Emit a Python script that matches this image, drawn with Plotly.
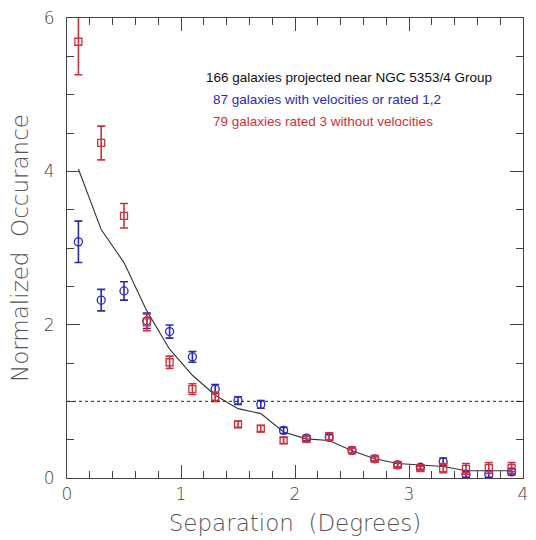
import plotly.graph_objects as go

# Angular separation bins (degrees)
sep = [0.1, 0.3, 0.5, 0.7, 0.9, 1.1, 1.3, 1.5, 1.7, 1.9,
       2.1, 2.3, 2.5, 2.7, 2.9, 3.1, 3.3, 3.5, 3.7, 3.9]

# Galaxies with velocities or rated 1,2
blue_val = [3.08, 2.32, 2.44, 2.05, 1.91, 1.58, 1.16, 1.01, 0.96, 0.62,
            0.52, 0.53, 0.36, 0.25, 0.17, 0.14, 0.21, 0.05, 0.05, 0.08]
blue_err = [0.27, 0.14, 0.12, 0.10, 0.085, 0.07, 0.06, 0.05, 0.05, 0.04,
            0.035, 0.035, 0.03, 0.03, 0.025, 0.025, 0.05, 0.04, 0.04, 0.04]

# Galaxies rated 3 without velocities
red_val = [5.69, 4.37, 3.42, 2.03, 1.51, 1.16, 1.06, 0.70, 0.645, 0.49,
           0.51, 0.54, 0.36, 0.25, 0.17, 0.13, 0.13, 0.12, 0.13, 0.13]
red_err = [0.43, 0.22, 0.16, 0.11, 0.08, 0.07, 0.06, 0.04, 0.04, 0.04,
           0.035, 0.05, 0.03, 0.03, 0.025, 0.025, 0.06, 0.07, 0.07, 0.07]

# Full sample of 166 galaxies
all_val = [4.03, 3.24, 2.81, 2.18, 1.68, 1.34, 1.08, 0.905, 0.84, 0.60,
           0.51, 0.49, 0.355, 0.25, 0.19, 0.17, 0.15, 0.095, 0.095, 0.095]

x_ticks = [0, 1, 2, 3, 4]
y_ticks = [0, 2, 4, 6]

BLUE = "#2a2ab8"
RED = "#d0303c"
AXIS_FONT = dict(family="DejaVu Sans", size=17, color="#444444", weight=300)
TITLE_FONT = dict(family="DejaVu Sans", size=23, color="#555555", weight=300)

fig = go.Figure()

fig.add_trace(go.Scatter(
    x=sep, y=all_val, mode="lines",
    line=dict(color="#333333", width=1.1),
    showlegend=False,
))

fig.add_trace(go.Scatter(
    x=sep, y=blue_val, mode="markers",
    marker=dict(symbol="circle-open", size=8, color=BLUE, line=dict(width=1.3, color=BLUE)),
    error_y=dict(type="data", array=blue_err, color=BLUE, thickness=1.6, width=4),
    showlegend=False,
))

fig.add_trace(go.Scatter(
    x=sep, y=red_val, mode="markers",
    marker=dict(symbol="square-open", size=7, color=RED, line=dict(width=1.3, color=RED)),
    error_y=dict(type="data", array=red_err, color=RED, thickness=1.6, width=4),
    showlegend=False,
))

# Reference level of unity
fig.add_shape(type="line", xref="x", yref="y", x0=0, x1=4, y0=1, y1=1,
              line=dict(color="#222222", width=1, dash="dot"))

notes = [
    ("166 galaxies projected near NGC 5353/4 Group", "#111111", 5.23, 1.20),
    ("87 galaxies with velocities or rated 1,2", BLUE, 4.94, 1.26),
    ("79 galaxies rated 3 without velocities", RED, 4.65, 1.26),
]
for text, color, yv, xv in notes:
    fig.add_annotation(x=xv, y=yv, xref="x", yref="y", text=text, showarrow=False,
                       xanchor="left", yanchor="middle",
                       font=dict(family="Liberation Sans", size=13.5, color=color))

axis_common = dict(
    showline=True, linecolor="#444444", linewidth=1.2, mirror="allticks",
    ticks="inside", ticklen=13, tickwidth=1.2, tickcolor="#444444",
    showgrid=False, zeroline=False, tickfont=AXIS_FONT,
)

fig.update_xaxes(range=[0, 4], tickvals=x_ticks,
                 minor=dict(dtick=0.2, ticks="inside", ticklen=7, tickwidth=1.2, tickcolor="#444444"),
                 title=dict(text="Separation  (Degrees)", font=TITLE_FONT, standoff=12),
                 **axis_common)
fig.update_yaxes(range=[0, 6], tickvals=y_ticks, ticklabelstandoff=8,
                 minor=dict(dtick=0.5, ticks="inside", ticklen=7, tickwidth=1.2, tickcolor="#444444"),
                 title=dict(text="Normalized  Occurance", font=TITLE_FONT, standoff=8),
                 **axis_common)

fig.update_layout(
    width=536, height=540,
    margin=dict(l=67, r=8, t=16, b=62),
    paper_bgcolor="white", plot_bgcolor="white",
)

fig.write_html("out.html")
